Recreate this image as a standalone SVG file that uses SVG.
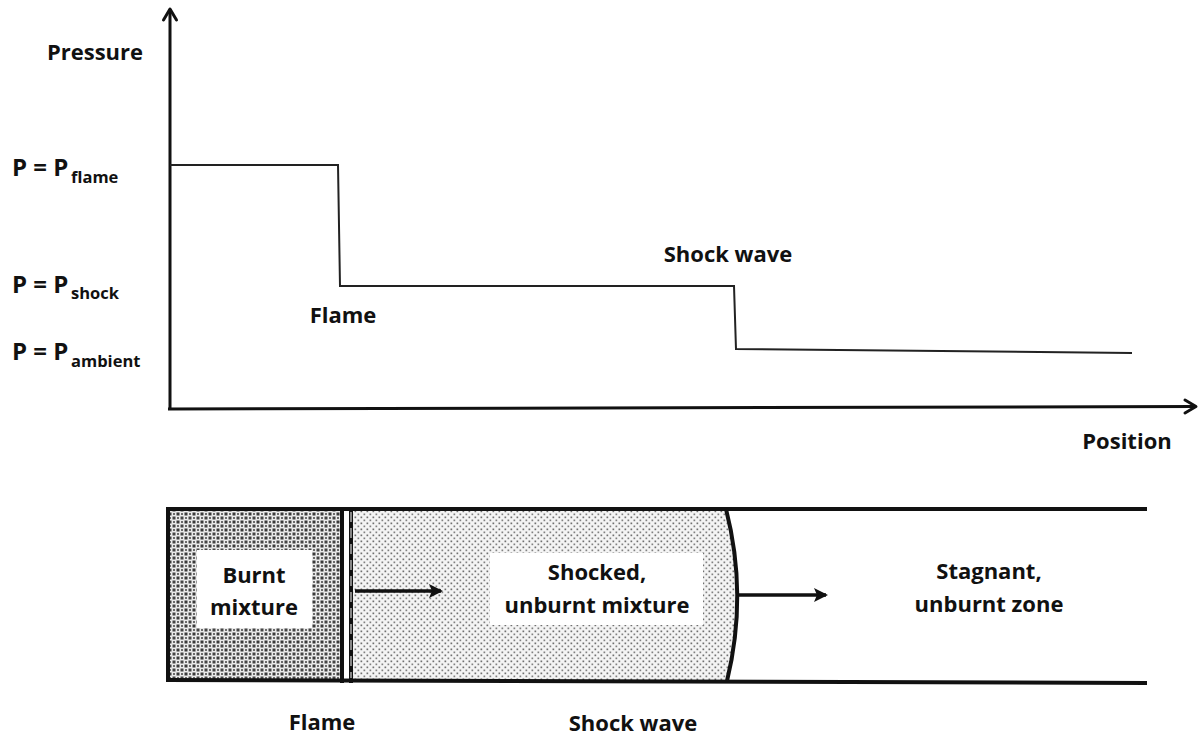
<svg xmlns="http://www.w3.org/2000/svg" width="1199" height="736" viewBox="0 0 1199 736">
<style>
.t{font-family:"Open Sans","Liberation Sans",sans-serif;font-weight:700;font-size:22px;fill:#111}
.tm{font-family:"Open Sans","Liberation Sans",sans-serif;font-weight:700;font-size:24px;fill:#111}
.ts{font-family:"Open Sans","Liberation Sans",sans-serif;font-weight:700;font-size:16.5px;fill:#111}
.c{text-anchor:middle}
.ax{stroke:#111;stroke-width:3;fill:none}
.hd{stroke:#111;stroke-width:3;fill:none;stroke-linecap:round;stroke-linejoin:round}
.curve{stroke:#222;stroke-width:2;fill:none}
.wall{stroke:#111;stroke-width:4;fill:none}
</style>
<defs>
<pattern id="coarse" width="8" height="8" patternUnits="userSpaceOnUse">
<rect width="8" height="8" fill="#ebebeb"/>
<rect x="0.5" y="0.5" width="3" height="3" fill="#3a3a3a"/>
<rect x="4.5" y="4.5" width="3" height="3" fill="#454545"/>
<rect x="5" y="1" width="2" height="2" fill="#6a6a6a"/>
<rect x="1" y="5" width="2" height="2" fill="#6a6a6a"/>
</pattern>
<pattern id="fine" width="6" height="6" patternUnits="userSpaceOnUse">
<rect width="6" height="6" fill="#f4f4f4"/>
<rect x="0.5" y="0.5" width="1.7" height="1.7" fill="#707070"/>
<rect x="3.5" y="3.5" width="1.7" height="1.7" fill="#808080"/>
</pattern>
<marker id="arr" viewBox="0 0 14 14" refX="12" refY="7" markerWidth="14" markerHeight="14" markerUnits="userSpaceOnUse" orient="auto">
<path d="M0,0 L14,7 L0,14 L3,7 Z" fill="#111"/>
</marker>
</defs>
<rect width="1199" height="736" fill="#fff"/>

<g id="plot">
<g id="axes">
<line class="ax" x1="170" y1="410" x2="170" y2="9"/>
<polyline class="hd" points="163.5,20 170,9 176.5,20"/>
<line class="ax" x1="168" y1="409" x2="1196" y2="406.5"/>
<polyline class="hd" points="1185,400 1196,406.5 1185,413"/>
</g>
<path id="pressure-curve" class="curve" d="M170 165 L338 165 L340 286 L734 286 L736 349 L1132 353"/>
<g id="labels-plot">
<text class="t c" x="95" y="60">Pressure</text>
<text class="tm" x="12" y="176">P = P</text><text class="ts" x="71" y="183">flame</text>
<text class="tm" x="12" y="293">P = P</text><text class="ts" x="71" y="299">shock</text>
<text class="tm" x="12" y="360">P = P</text><text class="ts" x="71" y="367">ambient</text>
<text class="t c" x="343" y="323">Flame</text>
<text class="t c" x="728" y="262">Shock wave</text>
<text class="t c" x="1127" y="449">Position</text>
</g>
</g>

<g id="tube">
<g id="burnt">
<rect x="168" y="509" width="172" height="172" fill="url(#coarse)"/>
<rect x="197" y="550" width="115" height="78" fill="#fff"/>
<text class="t c" x="254" y="583">Burnt</text>
<text class="t c" x="254" y="615">mixture</text>
</g>
<g id="shocked">
<path d="M353 509 L726 509 Q748 595 727 681 L353 681 Z" fill="url(#fine)"/>
<rect x="490" y="553" width="213" height="72" fill="#fff"/>
<text class="t c" x="597" y="580">Shocked,</text>
<text class="t c" x="597" y="613">unburnt mixture</text>
</g>
<g id="stagnant">
<text class="t c" x="989" y="579">Stagnant,</text>
<text class="t c" x="989" y="612">unburnt zone</text>
</g>
<g id="flame-front">
<rect x="340" y="507" width="4" height="176" fill="#111"/>
<rect x="349" y="507" width="4" height="176" fill="#111"/>
<line x1="351" y1="512" x2="351" y2="678" stroke="#fff" stroke-width="1" stroke-dasharray="10 6"/>
</g>
<g id="walls">
<line class="wall" x1="168" y1="507" x2="168" y2="682"/>
<line class="wall" x1="166" y1="509" x2="1147" y2="509"/>
<line class="wall" x1="166" y1="680" x2="1147" y2="683"/>
<path class="wall" d="M726 509 Q748 595 727 681"/>
</g>
<g id="connectors">
<line x1="355" y1="591" x2="441" y2="591" stroke="#111" stroke-width="3.5" marker-end="url(#arr)"/>
<line x1="739" y1="595" x2="826" y2="595" stroke="#111" stroke-width="3.5" marker-end="url(#arr)"/>
</g>
<text class="t c" x="322" y="730">Flame</text>
<text class="t c" x="633" y="731">Shock wave</text>
</g>
</svg>
